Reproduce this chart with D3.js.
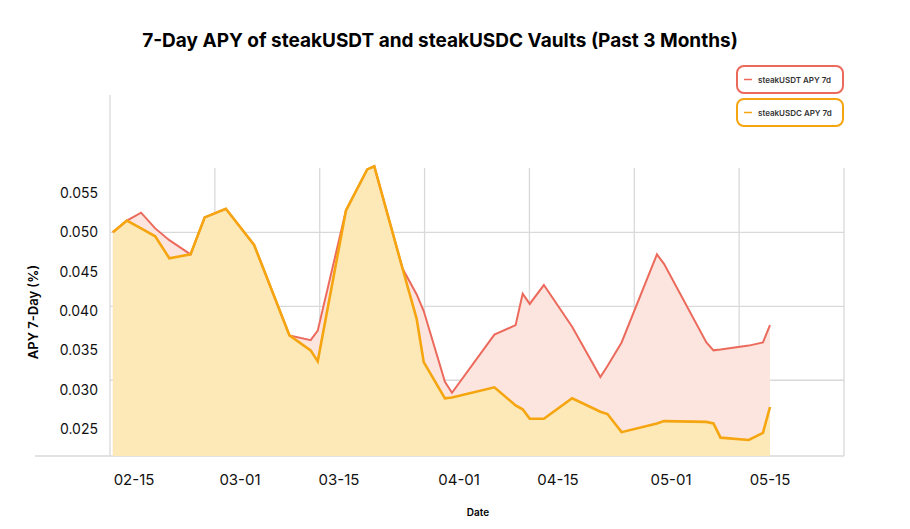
<!DOCTYPE html>
<html><head><meta charset="utf-8">
<script src="https://cdn.jsdelivr.net/npm/d3@7"></script>
<style>body{margin:0;background:#fff;font-family:Inter,"Noto Sans",sans-serif}</style>
</head><body><svg id="c" width="910" height="529"></svg>
<script>
var dates = ["02-12","02-14","02-16","02-18","02-20","02-23","02-25","02-28","03-03","03-08","03-11","03-12","03-16","03-19","03-20","03-24","03-26","03-27","03-30","03-31","04-06","04-09","04-10","04-11","04-13","04-17","04-21","04-22","04-24","04-29","04-30","05-06","05-07","05-08","05-12","05-14","05-15"];
var usdt = [0.050,0.0515,0.0525,0.0505,0.0490,0.0472,0.0519,0.053,0.0484,0.0369,0.0363,0.0375,0.0528,0.058,0.0584,0.0454,0.0421,0.040,0.031,0.0296,0.037,0.0382,0.0422,0.0409,0.0433,0.038,0.0316,0.033,0.036,0.0472,0.046,0.036,0.035,0.0351,0.0356,0.036,0.0382];
var usdc = [0.050,0.0515,0.0505,0.0495,0.0467,0.0472,0.0519,0.053,0.0484,0.0369,0.035,0.0336,0.0528,0.058,0.0584,0.0454,0.039,0.0335,0.0289,0.029,0.0303,0.028,0.0275,0.0263,0.0263,0.0289,0.0272,0.0269,0.0246,0.0257,0.026,0.0259,0.0257,0.0239,0.0236,0.0245,0.0278];
var xTicks = ["02-15","03-01","03-15","04-01","04-15","05-01","05-15"];
var yTicks = [0.025,0.030,0.035,0.040,0.045,0.050,0.055];
var yGrid = [0.0312,0.0406,0.050];
var xGridCount = 7;

var p = d3.timeParse("%Y-%m-%d");
var dt = s => p("2024-" + s);
var svg = d3.select("#c");
var x = d3.scaleTime().domain([dt("02-15"), dt("05-15")]).range([134, 770]);
var y = d3.scaleLinear().domain([0.025, 0.055]).range([429, 193]);
var L = 110, R = 844, B = 456, T = 168;
var gx = d3.scaleLinear().domain([0, xGridCount]).range([L, R]);

// grid
var g = svg.append("g").attr("stroke", "#d9d9d9").attr("stroke-width", 1.3);
d3.range(1, xGridCount + 1).forEach(i => g.append("line").attr("x1", gx(i)).attr("x2", gx(i)).attr("y1", T).attr("y2", B));
g.append("line").attr("x1", L).attr("x2", L).attr("y1", 95).attr("y2", B);
yGrid.forEach(v => g.append("line").attr("x1", L).attr("x2", R).attr("y1", y(v)).attr("y2", y(v)));
g.append("line").attr("x1", 35).attr("x2", R).attr("y1", B).attr("y2", B);

var pts = dates.map((d, i) => ({d: dt(d), a: usdt[i], b: usdc[i]}));
svg.append("clipPath").attr("id", "cl").append("rect").attr("x", L).attr("y", 0).attr("width", 800).attr("height", 600);
var area = k => d3.area().x(d => x(d.d)).y0(B).y1(d => y(d[k]));
var line = k => d3.line().x(d => x(d.d)).y(d => y(d[k]));
var pl = svg.append("g").attr("clip-path", "url(#cl)");
pl.append("path").datum(pts).attr("d", area("a")).attr("fill", "#fde5df");
pl.append("path").datum(pts).attr("d", area("b")).attr("fill", "#fde8b8");
pl.append("path").datum(pts).attr("d", line("a")).attr("fill", "none").attr("stroke", "#ec6a5c").attr("stroke-width", 2);
pl.append("path").datum(pts).attr("d", line("b")).attr("fill", "none").attr("stroke", "#f5a50f").attr("stroke-width", 2.6);

// axes labels
yTicks.forEach(v => svg.append("text").attr("x", 98).attr("y", y(v) + 5).attr("text-anchor", "end")
  .attr("font-size", 14).attr("fill", "#111").text(v.toFixed(3)));
xTicks.forEach(t => svg.append("text").attr("x", x(dt(t))).attr("y", 485).attr("text-anchor", "middle")
  .attr("font-size", 15).attr("fill", "#111").text(t));
svg.append("text").attr("x", 478).attr("y", 516).attr("text-anchor", "middle").attr("font-size", 10).attr("font-weight", 600).text("Date");
svg.append("text").attr("transform", "translate(38,312) rotate(-90)").attr("text-anchor", "middle")
  .attr("font-size", 13).attr("font-weight", 600).text("APY 7-Day (%)");
svg.append("text").attr("x", 440).attr("y", 47).attr("text-anchor", "middle").attr("font-size", 19)
  .attr("font-weight", 700).text("7-Day APY of steakUSDT and steakUSDC Vaults (Past 3 Months)");

// legend
[["steakUSDT APY 7d", "#ec6a5c", 66], ["steakUSDC APY 7d", "#f5a50f", 99]].forEach(l => {
  var lg = svg.append("g");
  lg.append("rect").attr("x", 737).attr("y", l[2]).attr("width", 106).attr("height", 27).attr("rx", 7)
    .attr("fill", "#fff").attr("stroke", l[1]).attr("stroke-width", 2);
  lg.append("line").attr("x1", 744).attr("x2", 752).attr("y1", l[2] + 13.5).attr("y2", l[2] + 13.5).attr("stroke", l[1]).attr("stroke-width", 1.5);
  lg.append("text").attr("x", 758).attr("y", l[2] + 17).attr("font-size", 8).attr("font-weight", 600).attr("fill", "#333").text(l[0]);
});
</script></body></html>
